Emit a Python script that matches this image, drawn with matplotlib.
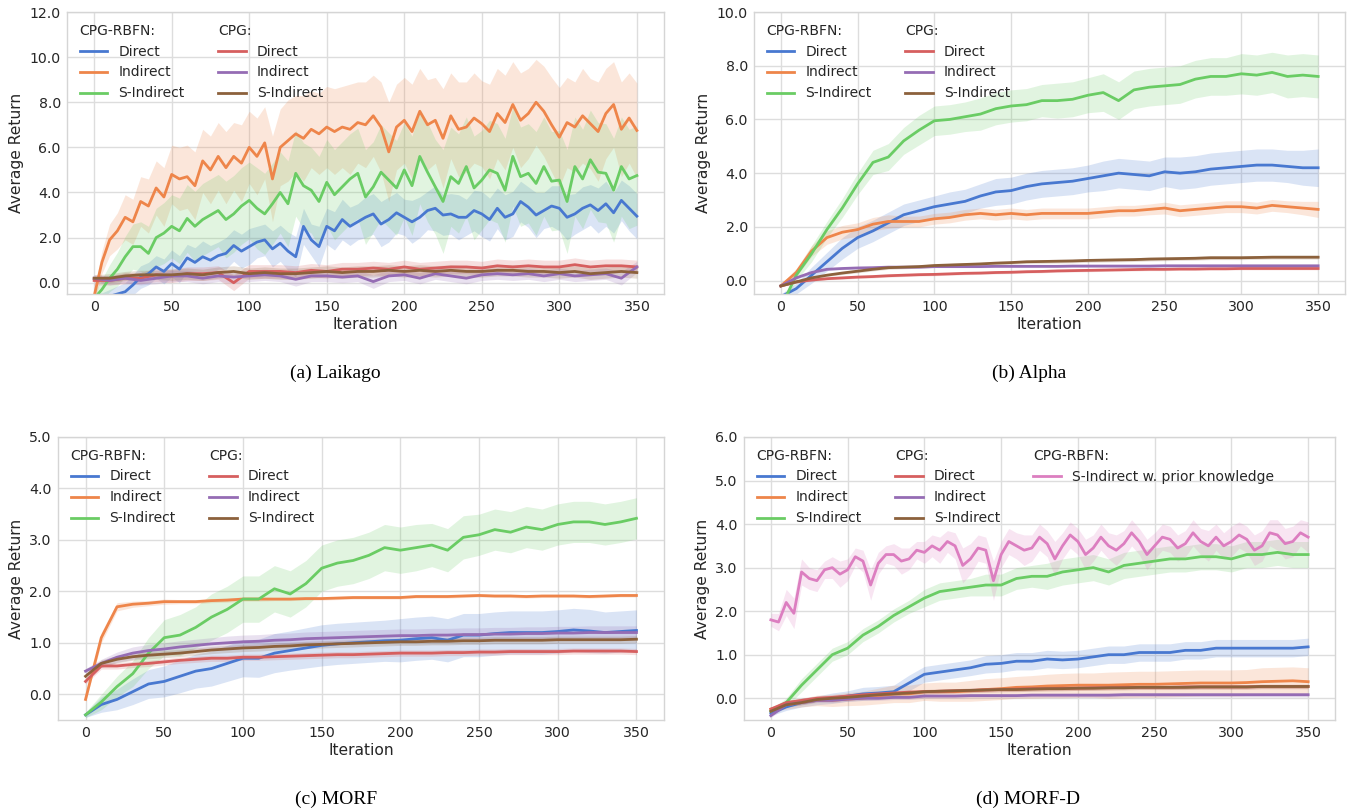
import matplotlib
matplotlib.use("Agg")
import matplotlib.pyplot as plt
from matplotlib.lines import Line2D
from matplotlib.legend import Legend
import numpy as np

# ---------------- data ----------------
ITER10 = list(range(0, 351, 10))
ITER5 = list(range(0, 351, 5))
X_TICKS = [0, 50, 100, 150, 200, 250, 300, 350]

# (a) Laikago  (CPG-RBFN series sampled every 5 iterations, CPG every 10)
a_rbfn_direct = [-0.7, -0.7, -0.6, -0.5, -0.4, -0.1, 0.25, 0.4, 0.7, 0.5, 0.85, 0.6, 1.1, 0.9, 1.15, 1.0, 1.2, 1.3,
                 1.65, 1.4, 1.6, 1.8, 1.9, 1.5, 1.75, 1.4, 1.15, 2.5, 1.9, 1.6, 2.5, 2.3, 2.8, 2.5, 2.7, 2.9,
                 3.05, 2.6, 2.8, 3.1, 2.9, 2.7, 2.9, 3.2, 3.3, 3.0, 3.05, 2.9, 2.9, 3.2, 3.05, 2.8, 3.3, 2.9,
                 3.05, 3.6, 3.35, 3.0, 3.2, 3.4, 3.3, 2.9, 3.05, 3.3, 3.45, 3.2, 3.5, 3.1, 3.65, 3.3, 2.95]
a_rbfn_direct_sd = [0.2, 0.25, 0.3, 0.35, 0.4, 0.45, 0.5, 0.5, 0.5, 0.55, 0.6, 0.6, 0.6, 0.65, 0.7, 0.65, 0.6, 0.7,
                    0.7, 0.75, 0.8, 0.7, 0.7, 0.8, 0.8, 0.85, 0.9, 0.8, 0.7, 0.9, 0.8, 0.85, 0.9, 0.85, 0.8, 0.9,
                    0.9, 1.0, 1.0, 0.9, 0.8, 0.95, 0.9, 0.85, 1.0, 0.9, 0.9, 1.0, 0.8, 0.9, 1.0, 0.95, 0.9, 1.0,
                    1.0, 0.9, 0.9, 1.0, 0.8, 0.9, 1.0, 1.0, 0.9, 0.95, 0.9, 1.0, 1.0, 0.9, 0.9, 1.0, 1.0]
a_rbfn_indirect = [-0.6, 0.9, 1.9, 2.3, 2.9, 2.7, 3.6, 3.4, 4.2, 3.8, 4.8, 4.6, 4.7, 4.3, 5.4, 5.0, 5.6, 5.1,
                   5.6, 5.3, 6.0, 5.6, 6.2, 4.6, 6.0, 6.3, 6.6, 6.4, 6.8, 6.6, 6.9, 6.7, 6.9, 6.8, 7.1, 7.0,
                   7.4, 6.9, 5.8, 6.9, 7.2, 6.7, 7.6, 7.0, 7.2, 6.4, 7.4, 6.8, 6.9, 7.3, 7.05, 6.7, 7.5, 7.1,
                   7.9, 7.2, 7.5, 8.0, 7.6, 7.0, 6.45, 7.1, 6.9, 7.4, 7.05, 6.7, 7.5, 7.9, 6.8, 7.3, 6.75]
a_rbfn_indirect_sd = [0.3, 0.5, 0.7, 0.8, 1.0, 1.0, 1.1, 1.2, 1.2, 1.3, 1.3, 1.4, 1.4, 1.5, 1.4, 1.5, 1.5, 1.6,
                      1.5, 1.7, 1.6, 1.7, 1.6, 1.9, 1.7, 1.8, 1.7, 1.9, 1.7, 1.8, 1.8, 1.9, 1.8, 2.0, 1.8, 1.9,
                      1.8, 2.0, 2.2, 1.9, 1.9, 2.1, 1.9, 2.0, 1.9, 2.2, 1.9, 2.1, 2.0, 2.0, 1.9, 2.1, 2.0, 2.1,
                      1.9, 2.1, 2.0, 1.9, 2.0, 2.1, 2.2, 2.0, 2.0, 2.1, 2.0, 2.2, 2.0, 1.9, 2.1, 2.0, 2.1]
a_rbfn_sindirect = [-0.7, -0.3, 0.2, 0.6, 1.15, 1.6, 1.6, 1.3, 2.0, 2.2, 2.5, 2.3, 2.85, 2.5, 2.8, 3.0, 3.2, 2.8,
                    3.05, 3.4, 3.65, 3.3, 3.05, 3.5, 4.0, 3.5, 4.85, 4.3, 4.1, 3.6, 4.45, 3.9, 4.25, 4.6, 4.85, 3.8,
                    4.25, 4.9, 4.55, 4.2, 5.0, 4.3, 5.6, 4.9, 4.25, 3.6, 4.7, 4.4, 5.15, 4.2, 4.55, 5.0, 4.85, 4.1,
                    5.6, 4.7, 4.85, 4.4, 5.15, 4.5, 4.55, 3.6, 5.15, 4.6, 5.45, 4.9, 4.85, 4.1, 5.15, 4.6, 4.75]
a_rbfn_sindirect_sd = [0.3, 0.45, 0.6, 0.75, 0.9, 1.0, 1.1, 1.2, 1.3, 1.35, 1.4, 1.45, 1.5, 1.55, 1.6, 1.6, 1.6, 1.7,
                       1.7, 1.7, 1.7, 1.8, 1.8, 1.8, 1.8, 1.9, 1.9, 1.9, 1.9, 2.0, 1.9, 2.0, 2.0, 2.0, 2.0, 2.1,
                       2.0, 2.1, 2.1, 2.1, 2.1, 2.2, 2.1, 2.2, 2.1, 2.3, 2.2, 2.2, 2.2, 2.3, 2.2, 2.2, 2.2, 2.3,
                       2.2, 2.2, 2.2, 2.3, 2.2, 2.2, 2.2, 2.3, 2.2, 2.2, 2.2, 2.2, 2.2, 2.3, 2.2, 2.2, 2.2]
a_cpg_direct = [0.1, 0.1, 0.2, 0.2, 0.35, 0.3, 0.4, 0.4, 0.45, 0.0, 0.5, 0.5, 0.5, 0.45, 0.55, 0.5, 0.6, 0.6,
                0.65, 0.6, 0.7, 0.6, 0.65, 0.7, 0.7, 0.65, 0.75, 0.7, 0.75, 0.7, 0.7, 0.8, 0.7, 0.75, 0.75, 0.7]
a_cpg_direct_sd = [0.2, 0.2, 0.25, 0.25, 0.3, 0.3, 0.3, 0.3, 0.3, 0.35, 0.3, 0.3, 0.3, 0.3, 0.3, 0.3, 0.3, 0.3,
                   0.3, 0.3, 0.3, 0.3, 0.3, 0.3, 0.3, 0.3, 0.3, 0.3, 0.3, 0.3, 0.3, 0.3, 0.3, 0.3, 0.3, 0.3]
a_cpg_indirect = [0.2, 0.1, 0.2, 0.1, 0.2, 0.3, 0.3, 0.2, 0.3, 0.25, 0.3, 0.35, 0.3, 0.15, 0.3, 0.3, 0.25, 0.3,
                  0.05, 0.3, 0.35, 0.2, 0.4, 0.3, 0.2, 0.35, 0.4, 0.35, 0.4, 0.3, 0.4, 0.3, 0.35, 0.4, 0.2, 0.7]
a_cpg_indirect_sd = [0.15, 0.2, 0.2, 0.2, 0.25, 0.25, 0.25, 0.25, 0.25, 0.25, 0.25, 0.25, 0.25, 0.3, 0.25, 0.25, 0.25, 0.25,
                     0.3, 0.25, 0.25, 0.25, 0.25, 0.25, 0.25, 0.25, 0.25, 0.25, 0.25, 0.25, 0.25, 0.25, 0.25, 0.25, 0.3, 0.25]
a_cpg_sindirect = [0.2, 0.2, 0.3, 0.35, 0.35, 0.35, 0.4, 0.35, 0.45, 0.5, 0.4, 0.45, 0.4, 0.4, 0.45, 0.5, 0.45, 0.5,
                   0.5, 0.55, 0.5, 0.55, 0.5, 0.55, 0.5, 0.5, 0.55, 0.55, 0.5, 0.5, 0.45, 0.5, 0.4, 0.45, 0.5, 0.45]
a_cpg_sindirect_sd = [0.15, 0.2, 0.2, 0.2, 0.2, 0.25, 0.25, 0.25, 0.25, 0.25, 0.25, 0.25, 0.25, 0.25, 0.25, 0.25, 0.25, 0.25,
                      0.25, 0.25, 0.25, 0.25, 0.25, 0.25, 0.25, 0.25, 0.25, 0.25, 0.25, 0.25, 0.25, 0.25, 0.25, 0.25, 0.25, 0.25]

# (b) Alpha
b_rbfn_direct = [-0.6, -0.3, 0.2, 0.7, 1.2, 1.6, 1.85, 2.15, 2.45, 2.6, 2.75, 2.85, 2.95, 3.15, 3.3, 3.35, 3.5, 3.6,
                 3.65, 3.7, 3.8, 3.9, 4.0, 3.95, 3.9, 4.05, 4.0, 4.05, 4.15, 4.2, 4.25, 4.3, 4.3, 4.25, 4.2, 4.2]
b_rbfn_direct_sd = [0.1, 0.2, 0.3, 0.35, 0.4, 0.4, 0.4, 0.4, 0.4, 0.4, 0.4, 0.45, 0.45, 0.45, 0.5, 0.5, 0.5, 0.5,
                    0.5, 0.5, 0.5, 0.55, 0.55, 0.55, 0.55, 0.55, 0.6, 0.6, 0.6, 0.6, 0.6, 0.6, 0.6, 0.6, 0.65, 0.7]
b_rbfn_indirect = [-0.2, 0.3, 1.1, 1.6, 1.8, 1.9, 2.1, 2.2, 2.2, 2.2, 2.3, 2.35, 2.45, 2.5, 2.45, 2.5, 2.45, 2.5,
                   2.5, 2.5, 2.5, 2.55, 2.6, 2.6, 2.65, 2.7, 2.6, 2.65, 2.7, 2.75, 2.75, 2.7, 2.8, 2.75, 2.7, 2.65]
b_rbfn_indirect_sd = [0.05, 0.15, 0.2, 0.25, 0.25, 0.25, 0.25, 0.25, 0.2, 0.2, 0.2, 0.2, 0.2, 0.2, 0.2, 0.2, 0.2, 0.2,
                      0.2, 0.2, 0.2, 0.2, 0.2, 0.2, 0.2, 0.22, 0.22, 0.22, 0.22, 0.22, 0.22, 0.22, 0.22, 0.22, 0.25, 0.3]
b_rbfn_sindirect = [-1.0, 0.2, 1.0, 1.9, 2.7, 3.6, 4.4, 4.6, 5.2, 5.6, 5.95, 6.0, 6.1, 6.2, 6.4, 6.5, 6.55, 6.7,
                    6.7, 6.75, 6.9, 7.0, 6.7, 7.1, 7.2, 7.25, 7.3, 7.5, 7.6, 7.6, 7.7, 7.65, 7.75, 7.6, 7.65, 7.6]
b_rbfn_sindirect_sd = [0.1, 0.2, 0.3, 0.3, 0.35, 0.4, 0.45, 0.5, 0.5, 0.55, 0.55, 0.55, 0.55, 0.6, 0.6, 0.6, 0.6, 0.6,
                       0.65, 0.65, 0.65, 0.7, 0.7, 0.7, 0.7, 0.7, 0.7, 0.7, 0.7, 0.7, 0.75, 0.75, 0.75, 0.8, 0.8, 0.8]
b_cpg_direct = [-0.2, -0.05, 0.02, 0.07, 0.1, 0.13, 0.15, 0.18, 0.2, 0.22, 0.23, 0.25, 0.27, 0.28, 0.3, 0.31, 0.33, 0.34,
                0.36, 0.37, 0.38, 0.39, 0.4, 0.41, 0.42, 0.42, 0.43, 0.43, 0.44, 0.44, 0.45, 0.45, 0.45, 0.45, 0.45, 0.45]
b_cpg_direct_sd = [0.03, 0.04, 0.04, 0.04, 0.05, 0.05, 0.05, 0.05, 0.05, 0.05, 0.05, 0.05, 0.05, 0.05, 0.05, 0.05, 0.05, 0.05,
                   0.05, 0.05, 0.05, 0.05, 0.05, 0.05, 0.05, 0.05, 0.05, 0.05, 0.05, 0.05, 0.05, 0.05, 0.05, 0.05, 0.05, 0.05]
b_cpg_indirect = [-0.2, 0.1, 0.3, 0.42, 0.45, 0.47, 0.48, 0.5, 0.5, 0.5, 0.52, 0.52, 0.52, 0.52, 0.53, 0.53, 0.53, 0.53,
                  0.53, 0.54, 0.54, 0.54, 0.54, 0.54, 0.54, 0.55, 0.55, 0.55, 0.55, 0.55, 0.55, 0.55, 0.55, 0.55, 0.55, 0.55]
b_cpg_indirect_sd = [0.03, 0.05, 0.05, 0.04, 0.04, 0.04, 0.04, 0.04, 0.04, 0.04, 0.04, 0.04, 0.04, 0.04, 0.04, 0.04, 0.04, 0.04,
                     0.04, 0.04, 0.04, 0.04, 0.04, 0.04, 0.04, 0.04, 0.04, 0.04, 0.04, 0.04, 0.04, 0.04, 0.04, 0.04, 0.04, 0.04]
b_cpg_sindirect = [-0.2, -0.05, 0.1, 0.2, 0.28, 0.35, 0.42, 0.48, 0.5, 0.52, 0.56, 0.58, 0.6, 0.62, 0.65, 0.67, 0.7, 0.71,
                   0.72, 0.73, 0.75, 0.76, 0.77, 0.78, 0.8, 0.81, 0.82, 0.83, 0.85, 0.85, 0.85, 0.86, 0.87, 0.87, 0.87, 0.87]
b_cpg_sindirect_sd = [0.03, 0.05, 0.05, 0.05, 0.05, 0.06, 0.06, 0.06, 0.06, 0.06, 0.06, 0.06, 0.06, 0.06, 0.06, 0.06, 0.06, 0.07,
                      0.07, 0.07, 0.07, 0.07, 0.07, 0.07, 0.07, 0.07, 0.07, 0.07, 0.07, 0.07, 0.07, 0.07, 0.07, 0.07, 0.07, 0.07]

# (c) MORF
c_rbfn_direct = [-0.4, -0.2, -0.1, 0.05, 0.2, 0.25, 0.35, 0.45, 0.5, 0.6, 0.7, 0.7, 0.8, 0.85, 0.9, 0.95, 0.98, 1.0,
                 1.02, 1.04, 1.05, 1.08, 1.1, 1.05, 1.15, 1.15, 1.18, 1.2, 1.2, 1.2, 1.22, 1.25, 1.23, 1.2, 1.22, 1.24]
c_rbfn_direct_sd = [0.05, 0.15, 0.2, 0.25, 0.28, 0.3, 0.32, 0.33, 0.34, 0.35, 0.36, 0.37, 0.38, 0.38, 0.39, 0.4, 0.4, 0.4,
                    0.4, 0.4, 0.42, 0.42, 0.42, 0.42, 0.42, 0.42, 0.42, 0.42, 0.42, 0.42, 0.42, 0.42, 0.42, 0.4, 0.4, 0.4]
c_rbfn_indirect = [-0.1, 1.1, 1.7, 1.75, 1.77, 1.8, 1.8, 1.8, 1.82, 1.83, 1.85, 1.85, 1.85, 1.85, 1.86, 1.86, 1.87, 1.88,
                   1.88, 1.88, 1.88, 1.9, 1.9, 1.9, 1.91, 1.92, 1.91, 1.91, 1.9, 1.91, 1.91, 1.91, 1.9, 1.91, 1.92, 1.92]
c_rbfn_indirect_sd = [0.05, 0.1, 0.08, 0.06, 0.05, 0.05, 0.04, 0.04, 0.04, 0.04, 0.04, 0.04, 0.03, 0.03, 0.03, 0.03, 0.03, 0.03,
                      0.03, 0.03, 0.03, 0.03, 0.03, 0.03, 0.03, 0.03, 0.03, 0.03, 0.03, 0.03, 0.03, 0.03, 0.03, 0.03, 0.03, 0.03]
c_rbfn_sindirect = [-0.4, -0.15, 0.15, 0.4, 0.8, 1.1, 1.15, 1.3, 1.5, 1.65, 1.85, 1.85, 2.05, 1.95, 2.15, 2.45, 2.55, 2.6,
                    2.7, 2.85, 2.8, 2.85, 2.9, 2.8, 3.05, 3.1, 3.2, 3.15, 3.25, 3.2, 3.3, 3.35, 3.35, 3.3, 3.35, 3.42]
c_rbfn_sindirect_sd = [0.05, 0.15, 0.2, 0.25, 0.3, 0.35, 0.4, 0.4, 0.45, 0.45, 0.45, 0.45, 0.45, 0.45, 0.45, 0.45, 0.45, 0.45,
                       0.45, 0.45, 0.45, 0.45, 0.42, 0.42, 0.42, 0.4, 0.4, 0.4, 0.4, 0.4, 0.4, 0.4, 0.4, 0.4, 0.4, 0.4]
c_cpg_direct = [0.25, 0.55, 0.55, 0.58, 0.6, 0.63, 0.66, 0.68, 0.7, 0.7, 0.72, 0.72, 0.73, 0.74, 0.75, 0.76, 0.77, 0.77,
                0.78, 0.79, 0.8, 0.8, 0.8, 0.81, 0.81, 0.82, 0.82, 0.83, 0.83, 0.83, 0.83, 0.84, 0.84, 0.84, 0.84, 0.83]
c_cpg_direct_sd = [0.05, 0.06, 0.06, 0.06, 0.06, 0.06, 0.06, 0.06, 0.06, 0.06, 0.06, 0.06, 0.06, 0.06, 0.06, 0.06, 0.06, 0.06,
                   0.06, 0.06, 0.06, 0.06, 0.06, 0.06, 0.06, 0.06, 0.06, 0.06, 0.06, 0.06, 0.06, 0.06, 0.06, 0.06, 0.06, 0.06]
c_cpg_indirect = [0.45, 0.6, 0.72, 0.8, 0.85, 0.88, 0.92, 0.95, 0.98, 1.0, 1.02, 1.03, 1.05, 1.06, 1.08, 1.09, 1.1, 1.11,
                  1.12, 1.13, 1.14, 1.14, 1.15, 1.15, 1.16, 1.16, 1.17, 1.17, 1.18, 1.18, 1.19, 1.19, 1.2, 1.2, 1.2, 1.2]
c_cpg_indirect_sd = [0.05, 0.08, 0.1, 0.12, 0.12, 0.12, 0.12, 0.12, 0.12, 0.13, 0.13, 0.13, 0.13, 0.13, 0.13, 0.13, 0.13, 0.13,
                     0.13, 0.13, 0.13, 0.13, 0.13, 0.13, 0.13, 0.13, 0.13, 0.13, 0.13, 0.13, 0.13, 0.13, 0.13, 0.13, 0.13, 0.13]
c_cpg_sindirect = [0.35, 0.6, 0.68, 0.73, 0.76, 0.78, 0.8, 0.83, 0.86, 0.88, 0.9, 0.91, 0.93, 0.94, 0.96, 0.97, 0.98, 0.99,
                   1.0, 1.01, 1.02, 1.02, 1.03, 1.03, 1.04, 1.04, 1.05, 1.05, 1.05, 1.05, 1.06, 1.06, 1.06, 1.06, 1.06, 1.07]
c_cpg_sindirect_sd = [0.05, 0.07, 0.07, 0.07, 0.07, 0.07, 0.07, 0.07, 0.07, 0.07, 0.07, 0.07, 0.07, 0.07, 0.07, 0.07, 0.07, 0.07,
                      0.07, 0.07, 0.07, 0.07, 0.07, 0.07, 0.07, 0.07, 0.07, 0.07, 0.07, 0.07, 0.07, 0.07, 0.07, 0.07, 0.07, 0.07]

# (d) MORF-D
d_rbfn_direct = [-0.35, -0.2, -0.1, -0.05, 0.0, 0.05, 0.1, 0.12, 0.15, 0.35, 0.55, 0.6, 0.65, 0.7, 0.78, 0.8, 0.85, 0.85,
                 0.9, 0.88, 0.9, 0.95, 1.0, 1.0, 1.05, 1.05, 1.05, 1.1, 1.1, 1.15, 1.15, 1.15, 1.15, 1.15, 1.15, 1.18]
d_rbfn_direct_sd = [0.05, 0.08, 0.1, 0.1, 0.12, 0.12, 0.15, 0.15, 0.15, 0.18, 0.18, 0.18, 0.18, 0.18, 0.2, 0.2, 0.2, 0.2,
                    0.2, 0.2, 0.2, 0.2, 0.2, 0.2, 0.2, 0.2, 0.2, 0.2, 0.2, 0.2, 0.2, 0.2, 0.2, 0.2, 0.2, 0.2]
d_rbfn_indirect = [-0.25, -0.15, -0.1, -0.05, -0.05, -0.02, 0.0, 0.05, 0.1, 0.1, 0.15, 0.15, 0.15, 0.17, 0.2, 0.22, 0.25, 0.26,
                   0.28, 0.29, 0.3, 0.3, 0.3, 0.31, 0.32, 0.32, 0.33, 0.34, 0.35, 0.35, 0.35, 0.36, 0.38, 0.39, 0.4, 0.38]
d_rbfn_indirect_sd = [0.05, 0.1, 0.1, 0.12, 0.14, 0.15, 0.16, 0.18, 0.2, 0.2, 0.2, 0.22, 0.22, 0.24, 0.25, 0.25, 0.25, 0.26,
                      0.27, 0.28, 0.28, 0.28, 0.3, 0.3, 0.3, 0.3, 0.3, 0.3, 0.3, 0.3, 0.3, 0.3, 0.32, 0.32, 0.32, 0.32]
d_rbfn_sindirect = [-0.3, -0.1, 0.3, 0.65, 1.0, 1.15, 1.45, 1.65, 1.9, 2.1, 2.3, 2.45, 2.5, 2.55, 2.6, 2.6, 2.75, 2.8,
                    2.8, 2.9, 2.95, 3.0, 2.9, 3.05, 3.1, 3.15, 3.2, 3.2, 3.25, 3.25, 3.2, 3.3, 3.3, 3.35, 3.3, 3.3]
d_rbfn_sindirect_sd = [0.05, 0.1, 0.15, 0.15, 0.15, 0.15, 0.15, 0.15, 0.15, 0.15, 0.2, 0.2, 0.2, 0.2, 0.25, 0.25, 0.25, 0.25,
                       0.3, 0.3, 0.3, 0.3, 0.3, 0.3, 0.3, 0.3, 0.3, 0.3, 0.3, 0.3, 0.3, 0.3, 0.3, 0.3, 0.3, 0.3]
d_cpg_direct = [-0.25, -0.1, -0.05, 0.0, 0.02, 0.05, 0.08, 0.1, 0.12, 0.14, 0.15, 0.16, 0.17, 0.18, 0.19, 0.2, 0.21, 0.22,
                0.22, 0.23, 0.23, 0.24, 0.24, 0.25, 0.25, 0.25, 0.25, 0.26, 0.26, 0.26, 0.26, 0.26, 0.27, 0.27, 0.27, 0.27]
d_cpg_direct_sd = [0.04, 0.05, 0.05, 0.05, 0.05, 0.05, 0.05, 0.05, 0.05, 0.05, 0.05, 0.05, 0.05, 0.05, 0.05, 0.05, 0.05, 0.05,
                   0.05, 0.05, 0.05, 0.05, 0.05, 0.05, 0.05, 0.05, 0.05, 0.05, 0.05, 0.05, 0.05, 0.05, 0.05, 0.05, 0.05, 0.05]
d_cpg_indirect = [-0.4, -0.15, -0.1, -0.05, -0.05, -0.02, 0.0, 0.0, 0.02, 0.02, 0.05, 0.05, 0.05, 0.06, 0.06, 0.06, 0.06, 0.07,
                  0.07, 0.07, 0.07, 0.07, 0.07, 0.08, 0.08, 0.08, 0.08, 0.08, 0.08, 0.08, 0.08, 0.08, 0.08, 0.08, 0.08, 0.08]
d_cpg_indirect_sd = [0.04, 0.05, 0.05, 0.05, 0.05, 0.05, 0.05, 0.05, 0.05, 0.05, 0.05, 0.05, 0.05, 0.05, 0.05, 0.05, 0.05, 0.05,
                     0.05, 0.05, 0.05, 0.05, 0.05, 0.05, 0.05, 0.05, 0.05, 0.05, 0.05, 0.05, 0.05, 0.05, 0.05, 0.05, 0.05, 0.05]
d_cpg_sindirect = [-0.3, -0.15, -0.1, -0.03, 0.0, 0.02, 0.05, 0.08, 0.1, 0.12, 0.15, 0.16, 0.17, 0.18, 0.19, 0.2, 0.2, 0.21,
                   0.22, 0.22, 0.23, 0.23, 0.24, 0.24, 0.25, 0.25, 0.25, 0.25, 0.26, 0.26, 0.26, 0.26, 0.27, 0.27, 0.27, 0.27]
d_cpg_sindirect_sd = [0.04, 0.05, 0.05, 0.05, 0.05, 0.05, 0.05, 0.05, 0.05, 0.05, 0.05, 0.05, 0.05, 0.05, 0.05, 0.05, 0.05, 0.05,
                      0.05, 0.05, 0.05, 0.05, 0.05, 0.05, 0.05, 0.05, 0.05, 0.05, 0.05, 0.05, 0.05, 0.05, 0.05, 0.05, 0.05, 0.05]
# prior-knowledge series sampled every 5 iterations
d_prior = [1.8, 1.75, 2.2, 1.95, 2.9, 2.75, 2.7, 2.95, 3.0, 2.85, 2.95, 3.25, 3.15, 2.6, 3.1, 3.3, 3.3, 3.15,
           3.2, 3.4, 3.35, 3.5, 3.4, 3.6, 3.5, 3.05, 3.2, 3.45, 3.4, 2.7, 3.3, 3.6, 3.5, 3.4, 3.45, 3.7,
           3.55, 3.2, 3.5, 3.75, 3.6, 3.3, 3.45, 3.7, 3.5, 3.4, 3.55, 3.8, 3.6, 3.3, 3.5, 3.7, 3.65, 3.45,
           3.55, 3.8, 3.6, 3.5, 3.7, 3.5, 3.6, 3.75, 3.65, 3.4, 3.5, 3.8, 3.75, 3.55, 3.6, 3.8, 3.7]
d_prior_sd = [0.15, 0.2, 0.3, 0.35, 0.3, 0.25, 0.25, 0.2, 0.25, 0.3, 0.25, 0.2, 0.25, 0.35, 0.25, 0.2, 0.25, 0.3,
              0.25, 0.2, 0.25, 0.25, 0.3, 0.25, 0.3, 0.4, 0.35, 0.3, 0.3, 0.45, 0.3, 0.3, 0.3, 0.35, 0.3, 0.3,
              0.3, 0.4, 0.3, 0.3, 0.3, 0.35, 0.3, 0.3, 0.3, 0.35, 0.3, 0.3, 0.3, 0.35, 0.3, 0.3, 0.3, 0.3,
              0.3, 0.3, 0.3, 0.35, 0.3, 0.3, 0.35, 0.3, 0.3, 0.35, 0.35, 0.3, 0.35, 0.35, 0.35, 0.3, 0.35]

SERIES_LABELS = ["Direct", "Indirect", "S-Indirect"]
PRIOR_LABEL = "S-Indirect w. prior knowledge"
GROUP_TITLES = ["CPG-RBFN:", "CPG:", "CPG-RBFN:"]
CAPTIONS = ["(a) Laikago", "(b) Alpha", "(c) MORF", "(d) MORF-D"]
Y_TOPS = [12.0, 10.0, 5.0, 6.0]

# ---------------- style ----------------
C_BLUE, C_ORANGE, C_GREEN = "#4878d0", "#ee854a", "#6acc64"
C_RED, C_PURPLE, C_BROWN, C_PINK = "#d65f5f", "#956cb4", "#8c613c", "#dc7ec0"
LW = 2.0
TEXT = "#262626"

plt.rcParams.update({
    "font.family": ["DejaVu Sans"],
    "axes.edgecolor": "#d5d5d5",
    "axes.linewidth": 1.0,
    "grid.color": "#dddddd",
    "grid.linewidth": 1.0,
    "text.color": TEXT,
    "axes.labelcolor": TEXT,
    "xtick.color": TEXT,
    "ytick.color": TEXT,
})

W, H = 1348, 811
fig = plt.figure(figsize=(W / 100, H / 100), dpi=100)

boxes = [(67, 664, 12, 294), (754, 1345, 12, 294), (58, 664, 437, 720), (744, 1335, 437, 720)]
caption_pos = [(335, 373), (1029, 373), (336, 799), (1028, 799)]

rbfn_colors = [C_BLUE, C_ORANGE, C_GREEN]
cpg_colors = [C_RED, C_PURPLE, C_BROWN]

panels = [
    [(ITER5, a_rbfn_direct, a_rbfn_direct_sd, C_BLUE), (ITER5, a_rbfn_indirect, a_rbfn_indirect_sd, C_ORANGE),
     (ITER5, a_rbfn_sindirect, a_rbfn_sindirect_sd, C_GREEN), (ITER10, a_cpg_direct, a_cpg_direct_sd, C_RED),
     (ITER10, a_cpg_indirect, a_cpg_indirect_sd, C_PURPLE), (ITER10, a_cpg_sindirect, a_cpg_sindirect_sd, C_BROWN)],
    [(ITER10, b_rbfn_direct, b_rbfn_direct_sd, C_BLUE), (ITER10, b_rbfn_indirect, b_rbfn_indirect_sd, C_ORANGE),
     (ITER10, b_rbfn_sindirect, b_rbfn_sindirect_sd, C_GREEN), (ITER10, b_cpg_direct, b_cpg_direct_sd, C_RED),
     (ITER10, b_cpg_indirect, b_cpg_indirect_sd, C_PURPLE), (ITER10, b_cpg_sindirect, b_cpg_sindirect_sd, C_BROWN)],
    [(ITER10, c_rbfn_direct, c_rbfn_direct_sd, C_BLUE), (ITER10, c_rbfn_indirect, c_rbfn_indirect_sd, C_ORANGE),
     (ITER10, c_rbfn_sindirect, c_rbfn_sindirect_sd, C_GREEN), (ITER10, c_cpg_direct, c_cpg_direct_sd, C_RED),
     (ITER10, c_cpg_indirect, c_cpg_indirect_sd, C_PURPLE), (ITER10, c_cpg_sindirect, c_cpg_sindirect_sd, C_BROWN)],
    [(ITER10, d_rbfn_direct, d_rbfn_direct_sd, C_BLUE), (ITER10, d_rbfn_indirect, d_rbfn_indirect_sd, C_ORANGE),
     (ITER10, d_rbfn_sindirect, d_rbfn_sindirect_sd, C_GREEN), (ITER10, d_cpg_direct, d_cpg_direct_sd, C_RED),
     (ITER10, d_cpg_indirect, d_cpg_indirect_sd, C_PURPLE), (ITER10, d_cpg_sindirect, d_cpg_sindirect_sd, C_BROWN),
     (ITER5, d_prior, d_prior_sd, C_PINK)],
]


def band(ax, xs, y, sd, color):
    xs = np.asarray(xs, dtype=float)
    y = np.asarray(y, dtype=float)
    sd = np.asarray(sd, dtype=float)
    ax.fill_between(xs, y - sd, y + sd, color=color, alpha=0.2, linewidth=0)
    ax.plot(xs, y, color=color, lw=LW)


for i, series in enumerate(panels):
    l, r, t, b = boxes[i]
    ax = fig.add_axes([l / W, 1 - b / H, (r - l) / W, (b - t) / H])
    ax.set_axisbelow(True)
    ax.grid(True)
    for xs, y, sd, c in series:
        band(ax, xs, y, sd, c)
    ax.set_xlim(-17.5, 367.5)
    ax.set_ylim(-0.5, Y_TOPS[i])
    ax.set_xticks(X_TICKS)
    ax.set_yticks(np.arange(0, Y_TOPS[i] + 0.01, 2.0 if Y_TOPS[i] > 6 else 1.0))
    ax.yaxis.set_major_formatter(matplotlib.ticker.FormatStrFormatter("%.1f"))
    ax.tick_params(length=0, labelsize=10.2, pad=4.5)
    ax.set_xlabel("Iteration", fontsize=11.2, labelpad=2)
    ax.set_ylabel("Average Return", fontsize=11.2)

    ax_w, ax_h = r - l, b - t
    groups = [(GROUP_TITLES[0], SERIES_LABELS, rbfn_colors), (GROUP_TITLES[1], SERIES_LABELS, cpg_colors)]
    if len(series) > 6:
        groups.append((GROUP_TITLES[2], [PRIOR_LABEL], [C_PINK]))
    offsets = [7.0, 145.5, 283.5]
    for g, (title, labels, colors) in enumerate(groups):
        handles = [Line2D([], [], color=c, lw=LW) for c in colors]
        leg = Legend(ax, handles, labels, title=title, loc="upper left",
                     bbox_to_anchor=(offsets[g] / ax_w, 1 - 6.0 / ax_h),
                     frameon=False, fontsize=10, title_fontsize=10, alignment="left",
                     labelspacing=0.5, borderaxespad=0, handlelength=2.0, handletextpad=0.8)
        ax.add_artist(leg)

    cx, cy = caption_pos[i]
    fig.text(cx / W, 1 - cy / H, CAPTIONS[i], ha="center", va="center",
             family=["Liberation Serif"], fontsize=14, color="black")

fig.savefig("out.png", dpi=100)
